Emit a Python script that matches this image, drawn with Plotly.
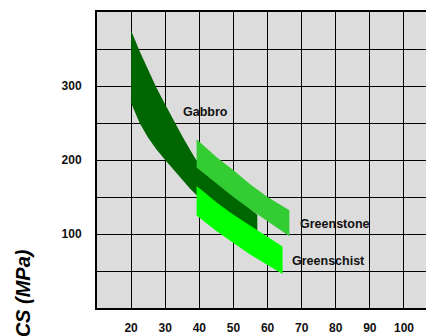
import plotly.graph_objects as go

# Gabbro band
gabbro_x = [20, 22.5, 25, 27.5, 30, 32.5, 35, 37.5, 40, 45, 50, 57]
gabbro_upper = [375, 347, 322, 297, 275, 253, 232, 212, 193, 172, 153, 126]
gabbro_lower = [277, 250, 230, 214, 200, 186, 173, 160, 149, 132, 118, 104]

# Greenstone band
greenstone_x = [39.2, 45, 50, 55, 60, 66.4]
greenstone_upper = [228, 204, 186, 167, 150, 132]
greenstone_lower = [190, 168, 150, 133, 117, 97]

# Greenschist band
greenschist_x = [39.2, 45, 50, 55, 60, 64.4]
greenschist_upper = [165, 143, 126, 111, 96, 83]
greenschist_lower = [125, 104, 88, 72, 58, 46]

x_ticks = [20, 30, 40, 50, 60, 70, 80, 90, 100]
y_grid = [50, 100, 150, 200, 250, 300, 350]
y_labels = ["", "100", "", "200", "", "300", ""]

labels = [("Gabbro", 41.7, 265), ("Greenstone", 79.8, 114), ("Greenschist", 77.8, 63)]

FONT = "Liberation Sans, Arial, sans-serif"

fig = go.Figure()

def band(x, up, lo, color, name):
    xs = list(x) + list(x)[::-1]
    ys = list(up) + list(lo)[::-1]
    fig.add_trace(go.Scatter(x=xs, y=ys, fill="toself", fillcolor=color,
                             mode="lines", line=dict(width=0, color=color),
                             name=name, hoverinfo="skip", showlegend=False))

band(gabbro_x, gabbro_upper, gabbro_lower, "#006600", "Gabbro")
band(greenstone_x, greenstone_upper, greenstone_lower, "#33CC33", "Greenstone")
band(greenschist_x, greenschist_upper, greenschist_lower, "#00FF00", "Greenschist")

for text, lx, ly in labels:
    fig.add_annotation(x=lx, y=ly, text="<b>" + text + "</b>", showarrow=False,
                       font=dict(family=FONT, size=12.5, color="#111111"),
                       xanchor="center", yanchor="middle")

fig.add_annotation(xref="paper", yref="paper", x=-0.222, y=0.025,
                   text="<b><i>UCS (MPa)</i></b>", textangle=-90, showarrow=False,
                   font=dict(family=FONT, size=20, color="#000000"),
                   xanchor="center", yanchor="middle")

# page body has an 8px default margin; compensate so the plot area lands at
# screen x 97..434, y 10..308
fig.update_layout(
    width=434, height=336,
    margin=dict(l=89, r=8, t=2, b=36),
    paper_bgcolor="white", plot_bgcolor="#DCDCDC",
    showlegend=False,
    font=dict(family=FONT, size=12, color="#111111"),
)
fig.update_xaxes(range=[10, 108.8], tickvals=x_ticks,
                 ticktext=["<b>%d</b>" % v for v in x_ticks],
                 showgrid=True, gridcolor="#000000", gridwidth=1,
                 showline=True, linecolor="#000000", linewidth=2, mirror=True,
                 ticks="outside", ticklen=8, tickcolor="rgba(0,0,0,0)",
                 zeroline=False, tickfont=dict(family=FONT, size=12, color="#111111"))
fig.update_yaxes(range=[0, 400], tickvals=y_grid,
                 ticktext=["<b>%s</b>" % t if t else "" for t in y_labels],
                 showgrid=True, gridcolor="#000000", gridwidth=1,
                 showline=True, linecolor="#000000", linewidth=2, mirror=False,
                 ticks="outside", ticklen=11, tickcolor="rgba(0,0,0,0)",
                 zeroline=False, tickfont=dict(family=FONT, size=12, color="#111111"))

fig.write_html("out.html")
